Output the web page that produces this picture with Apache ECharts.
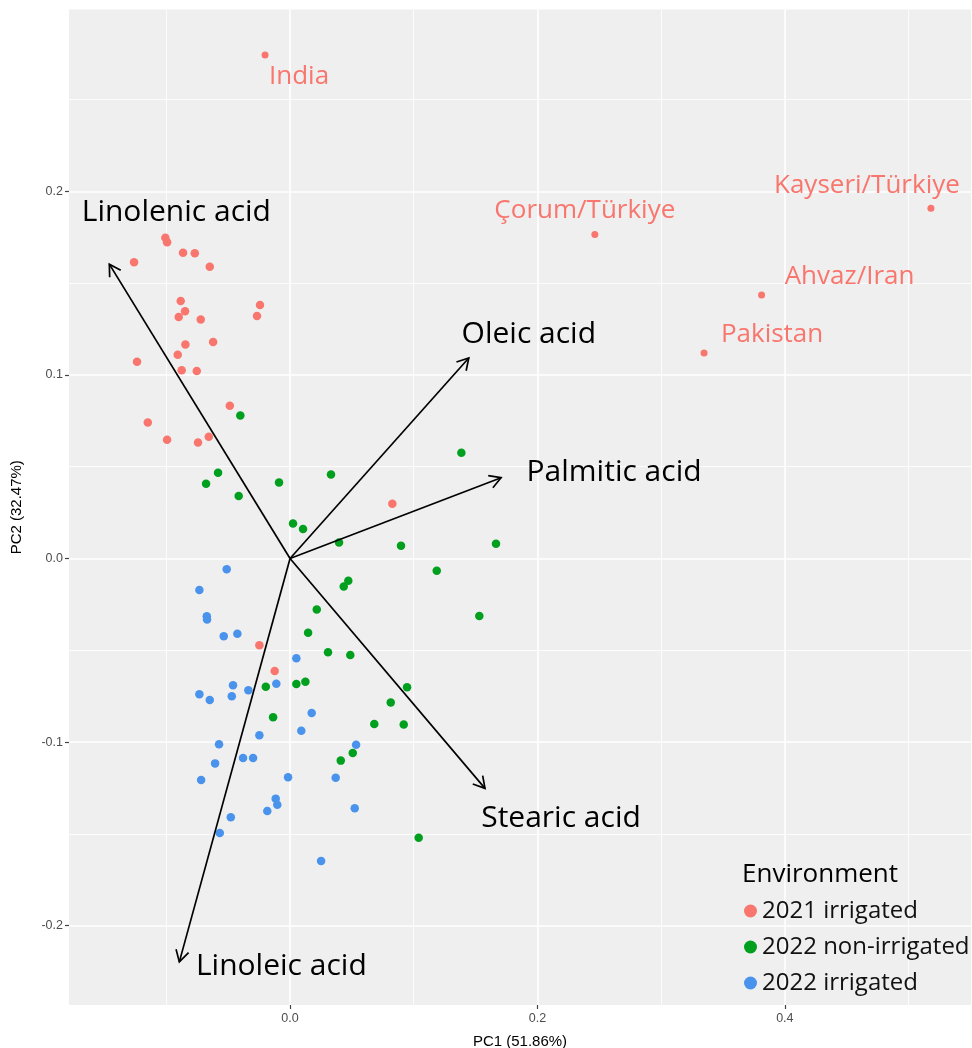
<!DOCTYPE html>
<html>
<head>
<meta charset="utf-8">
<script src="https://cdn.jsdelivr.net/npm/echarts@6/dist/echarts.min.js"></script>
<style>
html,body{margin:0;padding:0;background:#fff;}
#chart{width:972px;height:1048px;}
</style>
</head>
<body>
<div id="chart"></div>
<script>
// ---------------- DATA ----------------
// 2021 irrigated (PC1, PC2)
const irr2021 = [
  [-0.1008,0.1747],[-0.0994,0.1723],[-0.0865,0.1665],[-0.0770,0.1663],[-0.1261,0.1614],
  [-0.0649,0.1589],[-0.0884,0.1402],[-0.0849,0.1346],[-0.0900,0.1315],[-0.0722,0.1302],
  [-0.0243,0.1380],[-0.0267,0.1320],[-0.0846,0.1166],[-0.0622,0.1179],[-0.0908,0.1109],
  [-0.1237,0.1071],[-0.0876,0.1025],[-0.0754,0.1021],[-0.0487,0.0832],[-0.1150,0.0741],
  [-0.0994,0.0647],[-0.0744,0.0632],[-0.0657,0.0663],[0.0827,0.0298],[-0.0248,-0.0472],
  [-0.0124,-0.0613]
];
// 2021 irrigated, labelled genotype origins
const originNames = ['India','Çorum/Türkiye','Kayseri/Türkiye','Ahvaz/Iran','Pakistan'];
const originPoints = [[-0.0202,0.2742],[0.2464,0.1764],[0.5181,0.1908],[0.3812,0.1435],[0.3347,0.1119]];
// 2022 non-irrigated
const nonIrr2022 = [
  [-0.0402,0.0779],[-0.0582,0.0467],[-0.0679,0.0407],[-0.0415,0.0340],[-0.0089,0.0414],
  [0.0331,0.0458],[0.1385,0.0576],[0.0024,0.0191],[0.0105,0.0160],[0.0396,0.0087],
  [0.0897,0.0069],[0.1665,0.0080],[0.1186,-0.0067],[0.0471,-0.0121],[0.0434,-0.0152],
  [0.0216,-0.0278],[0.1530,-0.0313],[0.0146,-0.0404],[0.0307,-0.0511],[0.0487,-0.0526],
  [-0.0196,-0.0699],[0.0051,-0.0684],[0.0124,-0.0672],[0.0946,-0.0702],[0.0814,-0.0784],
  [-0.0137,-0.0865],[0.0681,-0.0902],[0.0919,-0.0904],[0.0507,-0.1060],[0.0410,-0.1101],
  [0.1040,-0.1521]
];
// 2022 irrigated
const irr2022 = [
  [-0.0512,-0.0059],[-0.0733,-0.0172],[-0.0673,-0.0315],[-0.0671,-0.0332],[-0.0536,-0.0424],
  [-0.0426,-0.0410],[0.0051,-0.0544],[-0.0111,-0.0682],[-0.0461,-0.0691],[-0.0337,-0.0718],
  [-0.0733,-0.0740],[-0.0649,-0.0771],[-0.0471,-0.0751],[0.0175,-0.0841],[0.0091,-0.0938],
  [-0.0248,-0.0963],[-0.0574,-0.1012],[0.0534,-0.1014],[-0.0606,-0.1116],[-0.0380,-0.1087],
  [-0.0299,-0.1087],[-0.0719,-0.1207],[-0.0016,-0.1191],[0.0369,-0.1194],[-0.0116,-0.1308],
  [-0.0103,-0.1341],[-0.0184,-0.1376],[0.0523,-0.1361],[-0.0479,-0.1410],[-0.0568,-0.1495],
  [0.0251,-0.1648]
];
// Loading vectors (arrow tips)
const loadingNames = ['Linolenic acid','Oleic acid','Palmitic acid','Stearic acid','Linoleic acid'];
const loadingX = [-0.1461, 0.1445, 0.1706, 0.1576, -0.0895];
const loadingY = [ 0.1603, 0.1092, 0.0440,-0.1252, -0.2197];
// Axis ticks / gridlines
const xTicks = [0, 0.2, 0.4];
const xMinor = [-0.1, 0.1, 0.3, 0.5];
const yTicks = [-0.2, -0.1, 0, 0.1, 0.2];
const yMinor = [-0.15, -0.05, 0.05, 0.15, 0.25];
const legendNames = ['2021 irrigated','2022 non-irrigated','2022 irrigated'];

// ---------------- STYLE ----------------
const COLORS = ['#F8766D', '#00A01E', '#4A93EC'];
const FONT = '"Open Sans", "DejaVu Sans", sans-serif';
const AXFONT = '"Liberation Sans", Arial, sans-serif';
// label offsets (pixels) relative to arrow tips / labelled points
const loadingLabelOffset = {
  'Linolenic acid':[67,-52], 'Oleic acid':[60,-24], 'Palmitic acid':[113,-5],
  'Stearic acid':[76,30], 'Linoleic acid':[102,5]
};
const originLabelOffset = {
  'India':[34,22], 'Çorum/Türkiye':[-10,-24], 'Kayseri/Türkiye':[-64,-23],
  'Ahvaz/Iran':[88,-18], 'Pakistan':[68,-18]
};

const redData = irr2021.map(p => ({value: p}));
originNames.forEach((n, i) => {
  redData.push({
    name: n, value: originPoints[i], symbolSize: 7,
    label: {
      show: true, formatter: n, position: 'inside', offset: originLabelOffset[n],
      color: '#F8766D', fontSize: 26, fontFamily: FONT, align: 'center', verticalAlign: 'middle'
    }
  });
});

const gridLines = [];
xTicks.forEach(v => gridLines.push({xAxis: v, lineStyle: {width: 1.6}}));
xMinor.forEach(v => gridLines.push({xAxis: v, lineStyle: {width: 0.8}}));
yTicks.forEach(v => gridLines.push({yAxis: v, lineStyle: {width: 1.6}}));
yMinor.forEach(v => gridLines.push({yAxis: v, lineStyle: {width: 0.8}}));

const chart = echarts.init(document.getElementById('chart'));
chart.setOption({
  animation: false,
  backgroundColor: '#ffffff',
  grid: {
    left: 69, right: 1, top: 9.5, bottom: 43, show: true, backgroundColor: '#EFEFEF', borderWidth: 0,
    containLabel: false, outerBoundsMode: 'none'
  },
  title: {
    text: 'Environment', left: 737, top: 857,
    textStyle: {fontFamily: FONT, fontSize: 26, fontWeight: 'normal', color: '#000'}
  },
  legend: {
    data: legendNames, orient: 'vertical', left: 739, top: 894, icon: 'circle',
    itemWidth: 13, itemHeight: 13, itemGap: 12,
    textStyle: {fontFamily: FONT, fontSize: 24, color: '#111', lineHeight: 24}
  },
  xAxis: {
    type: 'value', min: -0.1787, max: 0.5505,
    splitLine: {show: false},
    axisLine: {show: true, onZero: false, lineStyle: {color: 'rgba(239,239,239,0)', width: 1}},
    axisTick: {show: true, customValues: xTicks, length: 4, lineStyle: {color: '#444', width: 1.2}},
    axisLabel: {customValues: xTicks, formatter: v => v.toFixed(1), color: '#4D4D4D', fontSize: 12.5, margin: 7, fontFamily: AXFONT},
    name: 'PC1 (51.86%)', nameLocation: 'middle', nameGap: 29,
    nameTextStyle: {fontSize: 15, color: '#000', fontFamily: AXFONT}
  },
  yAxis: {
    type: 'value', min: -0.2432, max: 0.2990,
    splitLine: {show: false},
    axisLine: {show: true, onZero: false, lineStyle: {color: 'rgba(239,239,239,0)', width: 1}},
    axisTick: {show: true, customValues: yTicks, length: 4, lineStyle: {color: '#444', width: 1.2}},
    axisLabel: {customValues: yTicks, formatter: v => v.toFixed(1), color: '#4D4D4D', fontSize: 12.5, margin: 6, fontFamily: AXFONT},
    name: 'PC2 (32.47%)', nameLocation: 'middle', nameGap: 45, nameRotate: 90,
    nameTextStyle: {fontSize: 15, color: '#000', fontFamily: AXFONT}
  },
  series: [
    {
      type: 'scatter', name: '__grid', data: [], silent: true, z: 1,
      markLine: {
        silent: true, z: 1, symbol: ['none', 'none'], label: {show: false}, animation: false,
        lineStyle: {color: '#ffffff', type: 'solid'}, emphasis: {disabled: true},
        data: gridLines
      }
    },
    {
      type: 'scatter', name: legendNames[0], data: redData, symbolSize: 8.5, z: 3,
      itemStyle: {color: COLORS[0], opacity: 1}
    },
    {
      type: 'scatter', name: legendNames[1], data: nonIrr2022, symbolSize: 8.5, z: 3,
      itemStyle: {color: COLORS[1], opacity: 1}
    },
    {
      type: 'scatter', name: legendNames[2], data: irr2022, symbolSize: 8.5, z: 3,
      itemStyle: {color: COLORS[2], opacity: 1}
    },
    {
      type: 'custom', name: '__loadings', z: 4, silent: true,
      data: loadingX.map((x, i) => [x, loadingY[i]]),
      renderItem: function (params, api) {
        const p0 = api.coord([0, 0]);
        const p1 = api.coord([api.value(0), api.value(1)]);
        const ang = Math.atan2(p1[1] - p0[1], p1[0] - p0[0]);
        const L = 13, a = Math.PI / 6;
        const h1 = [p1[0] - L * Math.cos(ang - a), p1[1] - L * Math.sin(ang - a)];
        const h2 = [p1[0] - L * Math.cos(ang + a), p1[1] - L * Math.sin(ang + a)];
        const name = loadingNames[params.dataIndex];
        const off = loadingLabelOffset[name];
        return {
          type: 'group',
          children: [
            {type: 'line', shape: {x1: p0[0], y1: p0[1], x2: p1[0], y2: p1[1]}, style: {stroke: '#000', lineWidth: 1.7}},
            {type: 'polyline', shape: {points: [h1, p1, h2]}, style: {stroke: '#000', lineWidth: 1.7, fill: null}},
            {type: 'text', x: p1[0] + off[0], y: p1[1] + off[1],
              style: {text: name, fontSize: 30, fontFamily: FONT, fill: '#000', align: 'center', verticalAlign: 'middle'}}
          ]
        };
      }
    }
  ]
});
</script>
</body>
</html>
